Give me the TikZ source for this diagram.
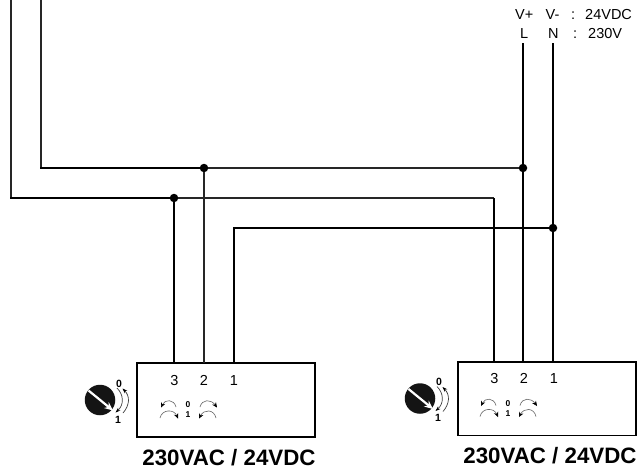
\documentclass[tikz,border=0pt]{standalone}
\usepackage{fontspec}
\setmainfont{Liberation Sans}
\usetikzlibrary{arrows.meta}
\tikzset{
 thickw/.style={line width=1.9pt,black},
 thinw/.style={line width=1.3pt,black!85},
 dot/.style={circle,fill=black,inner sep=0pt,minimum size=8.5pt},
 devbox/.style={draw=black,line width=1.7pt,fill=white,inner sep=0pt,minimum width=178pt,minimum height=73.5pt},
 title/.style={inner sep=0pt,font=\fontsize{22.3}{24}\selectfont\bfseries},
 term/.style={inner sep=0pt,anchor=base,font=\fontsize{14.5}{16}\selectfont},
 supply/.style={inner sep=0pt,font=\fontsize{14.5}{16}\selectfont,anchor=base west},
 tiny01/.style={inner sep=0pt,anchor=base,font=\fontsize{8.5}{9}\selectfont\bfseries},
 knob01/.style={inner sep=0pt,anchor=base,font=\fontsize{10.5}{11}\selectfont\bfseries},
 arcw/.style={line width=0.6pt,black!60},
 tipa/.style={-{Stealth[length=5pt,width=4.5pt,black]}},
 knobarc/.style={line width=0.7pt,black!75,-{Stealth[length=5pt,width=3.5pt,black]}},
}
\newcommand{\switchgroup}[3]{%
 % #1 = x offset, #2 = y offset, #3 = name prefix
 \begin{scope}[shift={(#1,#2)}]
  \node[circle,fill=black!92,inner sep=0pt,minimum size=30.5pt] (#3knob) at (100,400) {};
  \coordinate (#3ka) at (88.5,390.5);
  \coordinate (#3kb) at (113,410.5);
  \draw[white,line width=2.2pt,-{Stealth[length=8.5pt,width=7.5pt,white]}] (#3ka) -- (#3kb);
  \draw[knobarc] (117,388) .. controls (124,395) and (124,405) .. (115.5,412.5);
  \draw[knobarc] (123,413) .. controls (130,405) and (130,396) .. (122.5,388.5);
  \node[knob01] (#3kz) at (119,387) {0};
  \node[knob01] (#3ko) at (118,423) {1};
  \node[term] (#3t3) at (174.5,385) {3};
  \node[term] (#3t2) at (204,385) {2};
  \node[term] (#3t1) at (234,385) {1};
  \node[tiny01] (#3z) at (188,407.5) {0};
  \node[tiny01] (#3o) at (188,417.5) {1};
  \draw[arcw,tipa] (176,407) .. controls (174,399) and (165,399) .. (161,407.5);
  \draw[arcw,tipa] (160,418) .. controls (162,409) and (174,409) .. (178,418.5);
  \draw[arcw,tipa] (200,407) .. controls (202,399) and (211,399) .. (217,407.5);
  \draw[arcw,tipa] (216,418) .. controls (214,409) and (204,409) .. (199,418.5);
 \end{scope}}
\begin{document}
\begin{tikzpicture}[x=1pt,y=-1pt]
\useasboundingbox (0,0) rectangle (640,472);
\fill[white] (0,0) rectangle (640,472);
% boxes
\node[devbox] (boxa) at (226.3,400) {};
\node[devbox] (boxb) at (546.8,398.6) {};
\switchgroup{0}{0}{a}
\switchgroup{320}{-1.5}{b}
\node[title] (ta) at (229,458) {230VAC / 24VDC};
\node[title] (tb) at (550,456) {230VAC / 24VDC};
% supply labels
\node[supply] (vp) at (515,19) {V+};
\node[supply] (vm) at (545.5,19) {V-};
\node[supply] (c1) at (571,19) {:};
\node[supply] (v24) at (585,19) {24VDC};
\node[supply] (ll) at (520,38) {L};
\node[supply] (nn) at (548,38) {N};
\node[supply] (c2) at (573,38) {:};
\node[supply] (v230) at (588,38) {230V};
% wire points
\coordinate (topa) at (11,0);
\coordinate (topb) at (41,0);
\coordinate (cora) at (11,198);
\coordinate (corb) at (41,168);
\node[dot] (j1) at (204,168) {};
\node[dot] (j2) at (174,198) {};
\node[dot] (j3) at (523,168) {};
\node[dot] (j4) at (553,228) {};
\coordinate (cor3) at (494,198);
\coordinate (cor4) at (234,228);
\coordinate (la) at (523,43);
\coordinate (na) at (553,43);
\coordinate (pa3) at (174,363);
\coordinate (pa2) at (204,363);
\coordinate (pa1) at (234,363);
\coordinate (pb3) at (494,361);
\coordinate (pb2) at (523,361);
\coordinate (pb1) at (553,361);
% wires
\draw[thinw] (topa) -- (cora);
\draw[thickw,line cap=rect] (cora) -- (j2);
\draw[thinw] (j2) -- (cor3);
\draw[thickw] (cor3) -- (pb3);
\draw[thickw] (j2) -- (pa3);
\draw[thinw] (topb) -- (corb);
\draw[thickw,line cap=rect] (corb) -- (j1);
\draw[thinw] (j1) -- (j3);
\draw[thinw] (j1) -- (pa2);
\draw[thickw] (la) -- (j3);
\draw[thickw] (j3) -- (pb2);
\draw[thickw] (na) -- (j4);
\draw[thickw] (j4) -- (pb1);
\draw[thickw,line cap=rect] (j4) -- (cor4);
\draw[thickw] (cor4) -- (pa1);
\end{tikzpicture}
\end{document}
